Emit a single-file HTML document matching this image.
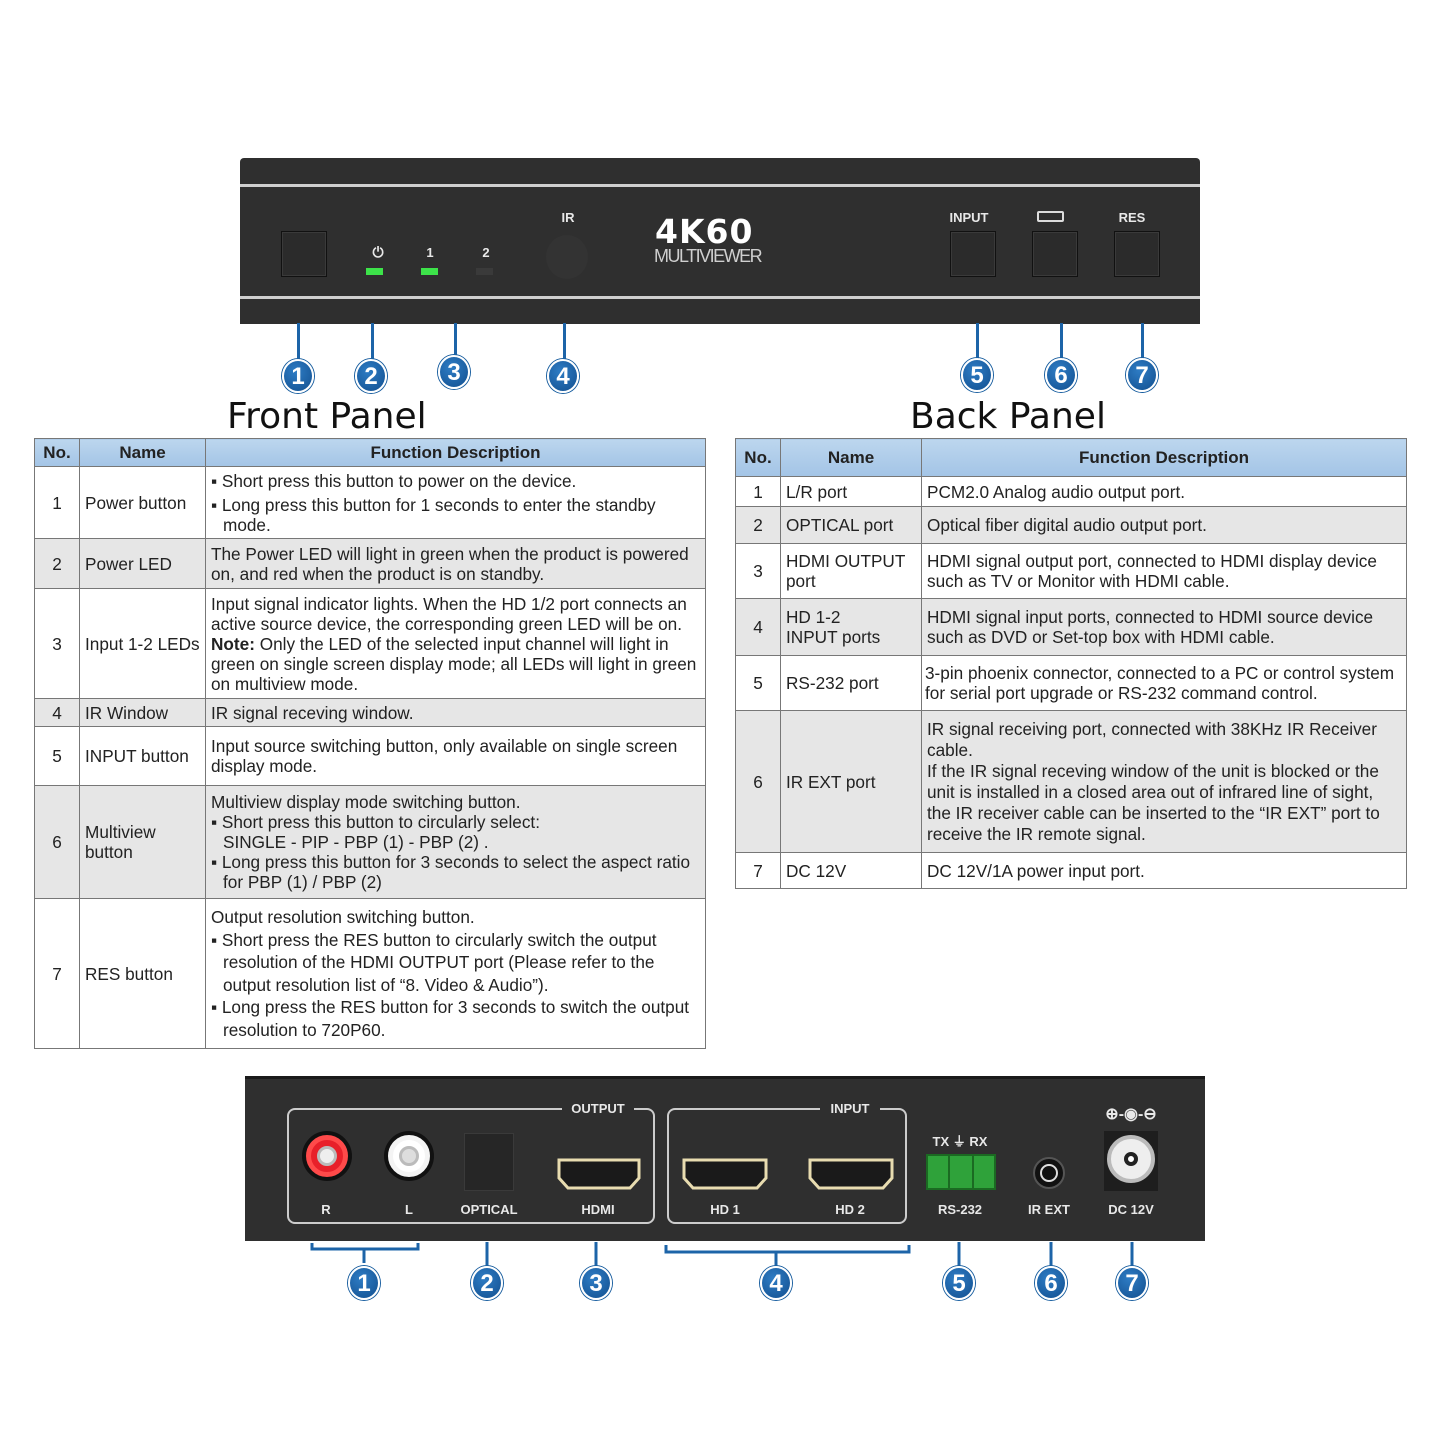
<!DOCTYPE html>
<html><head><meta charset="utf-8">
<style>
*{margin:0;padding:0;box-sizing:border-box}
body{width:1440px;height:1440px;background:#fff;position:relative;font-family:"Liberation Sans",Arial,sans-serif;color:#222;overflow:hidden}
.a{position:absolute}
table{position:absolute;border-collapse:collapse;table-layout:fixed;font-size:17.2px;line-height:20px}
td,th{border:1px solid #777;padding:0 5px;vertical-align:middle}
th{background:linear-gradient(#bcd6ee,#a3c4e6);font-weight:bold;text-align:center;font-size:17px}
td.n{text-align:center}
tr.g td{background:#e6e6e6}
.b{display:block;padding-left:12px;text-indent:-12px}
.badge{position:absolute;width:32px;height:34px;border-radius:50%;background:radial-gradient(circle at 40% 35%,#2e7cc4,#124f8f);border:2px solid #fff;box-shadow:0 0 0 1px #1a5fa0;color:#fff;font-weight:bold;font-size:24px;text-align:center;line-height:31px;font-family:"Liberation Sans Narrow","Liberation Sans",sans-serif}
.ln{position:absolute;width:3px;background:#1d64a8}
.lbl{position:absolute;color:#e8e8e8;font-size:13px;font-weight:bold;text-align:center}
.btn{position:absolute;width:46px;height:46px;border:1px solid #111;background:#2b2b2b;box-shadow:inset 0 0 0 1px #3a3a3a}
.title{position:absolute;font-size:36px;font-family:"DejaVu Sans",sans-serif;color:#111}
</style></head><body>

<!-- FRONT PANEL -->
<div class="a" style="left:240px;top:158px;width:960px;height:166px;background:#2f2f2f;border-radius:4px 4px 0 0"></div>
<div class="a" style="left:240px;top:184px;width:960px;height:3px;background:#cfcfcf"></div>
<div class="a" style="left:240px;top:296px;width:960px;height:3px;background:#cfcfcf"></div>
<div class="btn" style="left:281px;top:231px"></div>
<div class="lbl" style="left:366px;top:244px;width:24px;font-size:14px">⏻</div>
<div class="lbl" style="left:420px;top:245px;width:20px">1</div>
<div class="lbl" style="left:476px;top:245px;width:20px">2</div>
<div class="a" style="left:366px;top:268px;width:17px;height:7px;background:#3de34a"></div>
<div class="a" style="left:421px;top:268px;width:17px;height:7px;background:#3de34a"></div>
<div class="a" style="left:476px;top:268px;width:17px;height:7px;background:#3a3a3a"></div>
<div class="lbl" style="left:556px;top:210px;width:24px">IR</div>
<div class="a" style="left:546px;top:235px;width:42px;height:44px;border-radius:50%;background:#333"></div>
<div class="a" style="left:655px;top:212px;font-size:33px;font-weight:900;color:#fff;letter-spacing:1px;font-family:'DejaVu Sans',sans-serif">4K60</div>
<div class="a" style="left:654px;top:246px;font-size:18px;color:#cfcfcf;letter-spacing:-1.5px">MULTIVIEWER</div>
<div class="lbl" style="left:940px;top:210px;width:58px">INPUT</div>
<div class="a" style="left:1037px;top:211px;width:27px;height:11px;border:2px solid #ddd;border-radius:2px"></div>
<div class="lbl" style="left:1112px;top:210px;width:40px">RES</div>
<div class="btn" style="left:950px;top:231px"></div>
<div class="btn" style="left:1032px;top:231px"></div>
<div class="btn" style="left:1114px;top:231px"></div>

<div class="ln" style="left:297px;top:323px;height:40px"></div>
<div class="ln" style="left:371px;top:323px;height:40px"></div>
<div class="ln" style="left:454px;top:323px;height:36px"></div>
<div class="ln" style="left:563px;top:323px;height:40px"></div>
<div class="ln" style="left:976px;top:323px;height:40px"></div>
<div class="ln" style="left:1060px;top:323px;height:40px"></div>
<div class="ln" style="left:1141px;top:323px;height:40px"></div>
<div class="badge" style="left:282px;top:359px">1</div>
<div class="badge" style="left:355px;top:359px">2</div>
<div class="badge" style="left:438px;top:355px">3</div>
<div class="badge" style="left:547px;top:359px">4</div>
<div class="badge" style="left:961px;top:358px">5</div>
<div class="badge" style="left:1045px;top:358px">6</div>
<div class="badge" style="left:1126px;top:358px">7</div>

<div class="title" style="left:227px;top:396px">Front Panel</div>
<div class="title" style="left:910px;top:396px">Back Panel</div>

<!-- LEFT TABLE -->
<table style="left:34px;top:438px;width:671px">
<colgroup><col style="width:45px"><col style="width:126px"><col style="width:500px"></colgroup>
<tr style="height:28px"><th>No.</th><th>Name</th><th>Function Description</th></tr>
<tr style="height:72px"><td class="n">1</td><td>Power button</td><td><span class="b">▪ Short press this button to power on the device.</span><span class="b" style="margin-top:4px">▪ Long press this button for 1 seconds to enter the standby mode.</span></td></tr>
<tr class="g" style="height:50px"><td class="n">2</td><td>Power LED</td><td>The Power LED will light in green when the product is powered on, and red when the product is on standby.</td></tr>
<tr style="height:110px"><td class="n">3</td><td>Input 1-2 LEDs</td><td>Input signal indicator lights. When the HD 1/2 port connects an active source device, the corresponding green LED will be on. <b>Note:</b> Only the LED of the selected input channel will light in green on single screen display mode; all LEDs will light in green on multiview mode.</td></tr>
<tr class="g" style="height:28px"><td class="n">4</td><td>IR Window</td><td>IR signal receving window.</td></tr>
<tr style="height:59px"><td class="n">5</td><td>INPUT button</td><td>Input source switching button, only available on single screen display mode.</td></tr>
<tr class="g" style="height:113px"><td class="n">6</td><td>Multiview button</td><td>Multiview display mode switching button.<span class="b">▪ Short press this button to circularly select:<br>SINGLE - PIP - PBP (1) - PBP (2) .</span><span class="b">▪ Long press this button for 3 seconds to select the aspect ratio for PBP (1) / PBP (2)</span></td></tr>
<tr style="height:150px"><td class="n">7</td><td>RES button</td><td style="line-height:22.5px">Output resolution switching button.<span class="b">▪ Short press the RES button to circularly switch the output resolution of the HDMI OUTPUT port (Please refer to the output resolution list of “8. Video &amp; Audio”).</span><span class="b">▪ Long press the RES button for 3 seconds to switch the output resolution to 720P60.</span></td></tr>
</table>

<!-- RIGHT TABLE -->
<table style="left:735px;top:438px;width:671px">
<colgroup><col style="width:45px"><col style="width:141px"><col style="width:485px"></colgroup>
<tr style="height:38px"><th>No.</th><th>Name</th><th>Function Description</th></tr>
<tr style="height:30px"><td class="n">1</td><td>L/R port</td><td>PCM2.0 Analog audio output port.</td></tr>
<tr class="g" style="height:37px"><td class="n">2</td><td>OPTICAL port</td><td>Optical fiber digital audio output port.</td></tr>
<tr style="height:55px"><td class="n">3</td><td>HDMI OUTPUT port</td><td>HDMI signal output port, connected to HDMI display device such as TV or Monitor with HDMI cable.</td></tr>
<tr class="g" style="height:57px"><td class="n">4</td><td>HD 1-2<br>INPUT ports</td><td>HDMI signal input ports, connected to HDMI source device such as DVD or Set-top box with HDMI cable.</td></tr>
<tr style="height:55px"><td class="n">5</td><td>RS-232 port</td><td style="padding-left:3px;padding-right:0">3-pin phoenix connector, connected to a PC or control system for serial port upgrade or RS-232 command control.</td></tr>
<tr class="g" style="height:142px"><td class="n">6</td><td>IR EXT port</td><td style="line-height:21px">IR signal receiving port, connected with 38KHz IR Receiver cable.<br>If the IR signal receving window of the unit is blocked or the unit is installed in a closed area out of infrared line of sight, the IR receiver cable can be inserted to the “IR EXT” port to receive the IR remote signal.</td></tr>
<tr style="height:36px"><td class="n">7</td><td>DC 12V</td><td>DC 12V/1A power input port.</td></tr>
</table>

<!-- BACK PANEL -->
<div class="a" style="left:245px;top:1076px;width:960px;height:165px;background:#2f2f2f;border-top:3px solid #1a1a1a"></div>
<div class="a" style="left:287px;top:1108px;width:368px;height:116px;border:2px solid #ccc;border-radius:8px"></div>
<div class="a" style="left:562px;top:1100px;width:72px;height:16px;background:#2f2f2f"></div>
<div class="lbl" style="left:562px;top:1101px;width:72px">OUTPUT</div>
<div class="a" style="left:667px;top:1108px;width:240px;height:116px;border:2px solid #ccc;border-radius:8px"></div>
<div class="a" style="left:820px;top:1100px;width:60px;height:16px;background:#2f2f2f"></div>
<div class="lbl" style="left:820px;top:1101px;width:60px">INPUT</div>

<div class="a" style="left:302px;top:1131px;width:50px;height:50px;border-radius:50%;background:#111"></div>
<div class="a" style="left:306px;top:1135px;width:42px;height:42px;border-radius:50%;background:#e8202a;border:5px solid #ff4a4a"></div>
<div class="a" style="left:317px;top:1146px;width:20px;height:20px;border-radius:50%;background:#eee;border:3px solid #bbb"></div>
<div class="a" style="left:384px;top:1131px;width:50px;height:50px;border-radius:50%;background:#111"></div>
<div class="a" style="left:388px;top:1135px;width:42px;height:42px;border-radius:50%;background:#fff;border:5px solid #f4f4f4"></div>
<div class="a" style="left:399px;top:1146px;width:20px;height:20px;border-radius:50%;background:#ddd;border:3px solid #bbb"></div>
<div class="a" style="left:464px;top:1133px;width:50px;height:58px;background:#262626;border:1px solid #3a3a3a"></div>
<div class="lbl" style="left:316px;top:1202px;width:20px">R</div>
<div class="lbl" style="left:399px;top:1202px;width:20px">L</div>
<div class="lbl" style="left:452px;top:1202px;width:74px">OPTICAL</div>
<div class="lbl" style="left:568px;top:1202px;width:60px">HDMI</div>
<div class="lbl" style="left:695px;top:1202px;width:60px">HD 1</div>
<div class="lbl" style="left:820px;top:1202px;width:60px">HD 2</div>
<svg class="a" style="left:0;top:0" width="1440" height="1440">
 <g fill="#1a1a1a" stroke="#e8dcb0" stroke-width="3">
  <path d="M559 1160h80v18l-9 10h-62l-9-10z"/>
  <path d="M684 1160h82v18l-9 10h-64l-9-10z"/>
  <path d="M810 1160h82v18l-9 10h-64l-9-10z"/>
 </g>
 <path d="M312 1243v6h106v-6M364 1249v14" fill="none" stroke="#1d64a8" stroke-width="3"/>
 <path d="M666 1245v7h243v-7M776 1252v14" fill="none" stroke="#1d64a8" stroke-width="3"/>
 <path d="M487 1242v24M596 1242v24M959 1242v24M1051 1242v24M1132 1242v24" stroke="#1d64a8" stroke-width="3"/>
</svg>
<div class="lbl" style="left:920px;top:1131px;width:80px">TX ⏚ RX</div>
<div class="a" style="left:926px;top:1154px;width:70px;height:36px;background:#2fa23a;border:2px solid #1b6a22"></div>
<div class="a" style="left:948px;top:1156px;width:2px;height:32px;background:#1b6a22"></div>
<div class="a" style="left:972px;top:1156px;width:2px;height:32px;background:#1b6a22"></div>
<div class="lbl" style="left:922px;top:1202px;width:76px">RS-232</div>
<div class="a" style="left:1033px;top:1157px;width:32px;height:32px;border-radius:50%;background:#111;border:2px solid #555"></div>
<div class="a" style="left:1040px;top:1164px;width:18px;height:18px;border-radius:50%;border:2px solid #ddd"></div>
<div class="lbl" style="left:1014px;top:1202px;width:70px">IR EXT</div>
<div class="lbl" style="left:1098px;top:1104px;width:66px;font-size:16px">⊕-◉-⊖</div>
<div class="a" style="left:1104px;top:1131px;width:54px;height:60px;background:#1e1e1e"></div>
<div class="a" style="left:1107px;top:1135px;width:48px;height:48px;border-radius:50%;background:#eee;border:4px solid #bbb"></div>
<div class="a" style="left:1124px;top:1152px;width:14px;height:14px;border-radius:50%;background:#fff;border:4px solid #222"></div>
<div class="lbl" style="left:1096px;top:1202px;width:70px">DC 12V</div>

<div class="badge" style="left:348px;top:1266px">1</div>
<div class="badge" style="left:471px;top:1266px">2</div>
<div class="badge" style="left:580px;top:1266px">3</div>
<div class="badge" style="left:760px;top:1266px">4</div>
<div class="badge" style="left:943px;top:1266px">5</div>
<div class="badge" style="left:1035px;top:1266px">6</div>
<div class="badge" style="left:1116px;top:1266px">7</div>
</body></html>
